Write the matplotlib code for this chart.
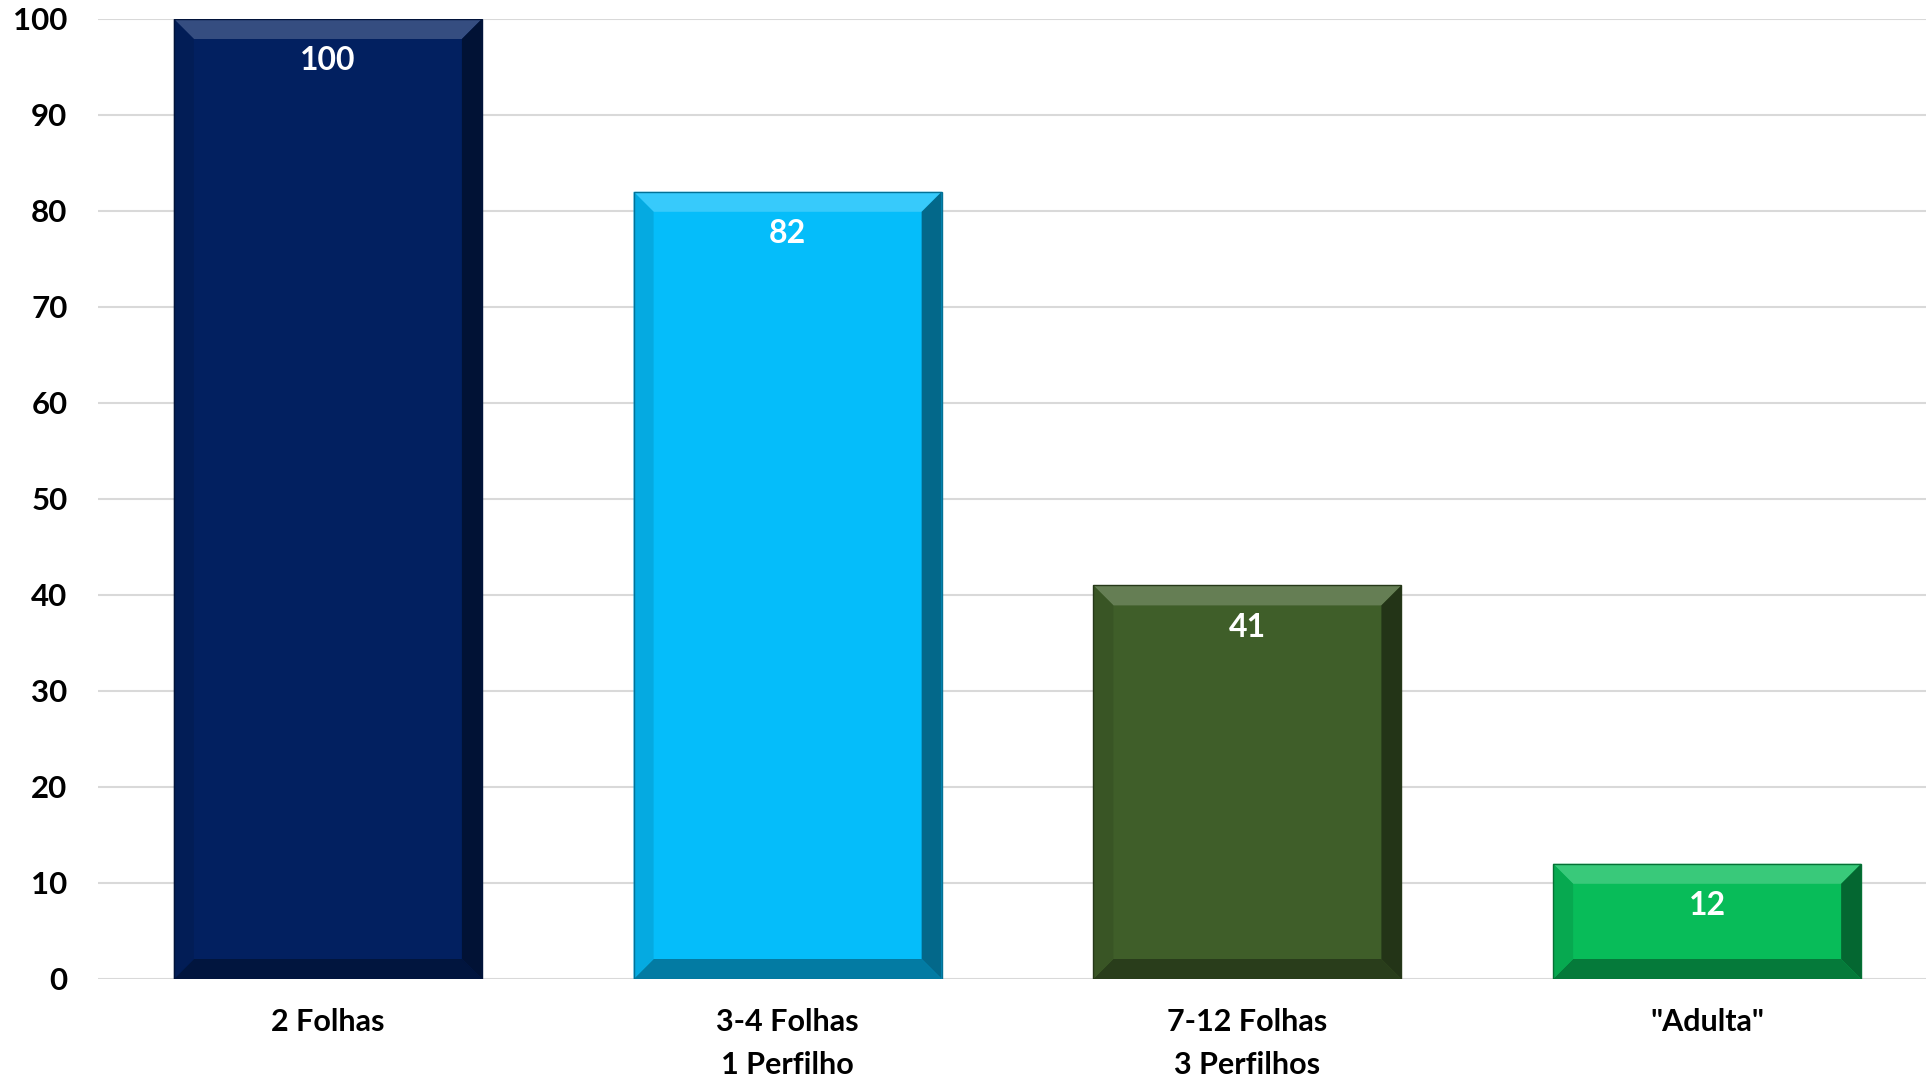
import matplotlib
matplotlib.use("Agg")
import matplotlib.pyplot as plt
from matplotlib.patches import Polygon
from matplotlib.colors import to_rgb

categories = ["2 Folhas", "3-4 Folhas\n1 Perfilho", "7-12 Folhas\n3 Perfilhos", "\"Adulta\""]
values = [100, 82, 41, 12]
colors = ["#022060", "#05BDFA", "#3F5E29", "#08BC59"]
yticks = [0, 10, 20, 30, 40, 50, 60, 70, 80, 90, 100]

plt.rcParams['font.family'] = ['Lato', 'DejaVu Sans']
plt.rcParams['font.weight'] = 'bold'


def mix(c, other, t):
    c = to_rgb(c)
    return tuple(a * (1 - t) + b * t for a, b in zip(c, other))


fig = plt.figure(figsize=(19.26, 10.77), dpi=100)
# plot area runs a little past the right edge of the picture
ax_left, ax_right, ax_top, ax_bottom = 98, 1937, 19, 979
ax = fig.add_axes([ax_left / 1926, 1 - ax_bottom / 1077,
                   (ax_right - ax_left) / 1926, (ax_bottom - ax_top) / 1077])

x = list(range(len(categories)))
bars = ax.bar(x, values, width=0.67, color=colors, zorder=3)

ax.set_xlim(-0.5, len(categories) - 0.5)
ax.set_ylim(0, 100)
ax.set_yticks(yticks)
ax.set_xticks(x)
ax.set_xticklabels(categories, fontsize=22, fontweight='bold', linespacing=1.65)
ax.tick_params(axis='y', length=0, pad=22, labelsize=22.5)
ax.tick_params(axis='x', length=0, pad=21)
for lab in ax.get_yticklabels():
    lab.set_fontweight('bold')
for s in ax.spines.values():
    s.set_visible(False)
ax.grid(axis='y', color='#D9D9D9', linewidth=1.5, zorder=0)
ax.set_axisbelow(True)

# bevel, about 20 px wide, converted to data units
bx = 20 / ((ax_right - ax_left) / len(categories))
by = 20 / ((ax_bottom - ax_top) / 100)

for bar, col in zip(bars, colors):
    x0 = bar.get_x()
    x1 = x0 + bar.get_width()
    y0 = 0
    y1 = bar.get_height()
    b_y = min(by, (y1 - y0) / 3)
    top = [(x0, y1), (x1, y1), (x1 - bx, y1 - b_y), (x0 + bx, y1 - b_y)]
    bottom = [(x0, y0), (x1, y0), (x1 - bx, y0 + b_y), (x0 + bx, y0 + b_y)]
    right = [(x1, y1), (x1, y0), (x1 - bx, y0 + b_y), (x1 - bx, y1 - b_y)]
    left = [(x0, y1), (x0, y0), (x0 + bx, y0 + b_y), (x0 + bx, y1 - b_y)]
    ax.add_patch(Polygon(top, closed=True, color=mix(col, (1, 1, 1), 0.2), zorder=4, lw=0))
    ax.add_patch(Polygon(bottom, closed=True, color=mix(col, (0, 0, 0), 0.35), zorder=4, lw=0))
    ax.add_patch(Polygon(right, closed=True, color=mix(col, (0, 0, 0), 0.45), zorder=4, lw=0))
    ax.add_patch(Polygon(left, closed=True, color=mix(col, (0, 0, 0), 0.1), zorder=4, lw=0))
    ax.add_patch(Polygon([(x0, y0), (x0, y1), (x1, y1), (x1, y0)], closed=True,
                         fill=False, edgecolor=mix(col, (0, 0, 0), 0.4), lw=1, zorder=5))

for bar, v in zip(bars, values):
    ax.annotate(str(v), (bar.get_x() + bar.get_width() / 2, v),
                xytext=(0, -30), textcoords='offset points',
                ha='center', va='center', color='white',
                fontsize=23, fontweight='bold', zorder=6)

fig.savefig("out.png", dpi=100)
